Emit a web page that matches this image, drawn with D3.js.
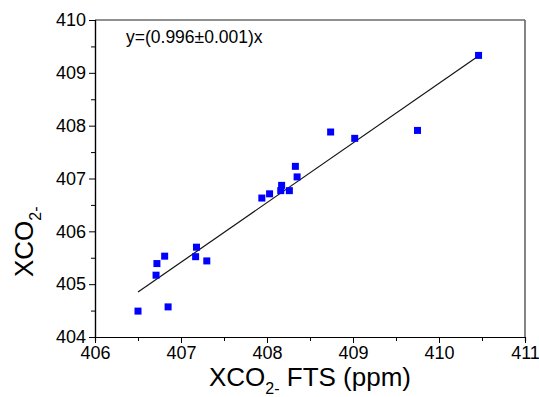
<!DOCTYPE html>
<html>
<head>
<meta charset="utf-8">
<script src="https://cdn.jsdelivr.net/npm/d3@7"></script>
<style>
  body { margin: 0; background: #fff; }
  text { font-family: "Liberation Sans", Arial, sans-serif; }
</style>
</head>
<body>
<svg id="chart"></svg>
<script>
// scatter values (x = FTS, y = satellite)
const fts = [406.50, 406.85, 406.71, 406.72, 406.81, 407.18, 407.17, 407.30,
             407.94, 408.03, 408.16, 408.17, 408.26, 408.33, 408.35, 408.74,
             409.02, 409.75, 410.46]
const sat = [404.49, 404.57, 405.17, 405.39, 405.53, 405.70, 405.52, 405.44,
             406.63, 406.71, 406.77, 406.87, 406.77, 407.23, 407.03, 407.88,
             407.76, 407.91, 409.33]

// fitted line end points
const fitX = [406.50, 410.45]
const fitY = [404.85, 409.31]

const xTicks = [406, 407, 408, 409, 410, 411]
const yTicks = [404, 405, 406, 407, 408, 409, 410]
const fitLabel = "y=(0.996\u00b10.001)x"

const W = 539, H = 397
var margin = {top: 20, right: 14, bottom: 60, left: 95},
  width = W - margin.left - margin.right,
  height = H - margin.top - margin.bottom;

var svg = d3.select("#chart")
  .attr("width", W)
  .attr("height", H)

var g = svg.append("g")
  .attr("transform", "translate(" + margin.left + "," + margin.top + ")")

var x = d3.scaleLinear().domain([406, 411]).range([0, width])
var y = d3.scaleLinear().domain([404, 410]).range([height, 0])

// frame on top and right
g.append("line")
  .attr("x1", 0).attr("x2", width).attr("y1", 0).attr("y2", 0)
  .attr("stroke", "#222").attr("stroke-width", 1.2)
g.append("line")
  .attr("x1", width).attr("x2", width).attr("y1", 0).attr("y2", height)
  .attr("stroke", "#666").attr("stroke-width", 1.6)

// minor ticks at halves
g.append("g")
  .attr("transform", "translate(0," + height + ")")
  .call(d3.axisBottom(x).tickValues(d3.range(406.5, 411, 1)).tickSize(4).tickFormat(""))
g.append("g")
  .call(d3.axisLeft(y).tickValues(d3.range(404.5, 410, 1)).tickSize(4).tickFormat(""))

// major axes
var xAxis = g.append("g")
  .attr("class", "xAxis")
  .attr("transform", "translate(0," + height + ")")
  .call(d3.axisBottom(x).tickValues(xTicks).tickFormat(d3.format("d"))
    .tickSize(6).tickSizeOuter(0).tickPadding(3))
var yAxis = g.append("g")
  .attr("class", "yAxis")
  .call(d3.axisLeft(y).tickValues(yTicks).tickFormat(d3.format("d"))
    .tickSize(6).tickSizeOuter(0).tickPadding(3))

g.selectAll(".domain").attr("stroke", "#000").attr("stroke-width", 1.2)
g.selectAll(".tick line").attr("stroke", "#000")
g.selectAll(".tick text")
  .attr("font-size", "18px")
  .attr("font-family", "Liberation Sans, Arial, sans-serif")
  .attr("fill", "#000")

// fit line
g.append("line")
  .attr("x1", x(fitX[0])).attr("y1", y(fitY[0]))
  .attr("x2", x(fitX[1])).attr("y2", y(fitY[1]))
  .attr("stroke", "#111")
  .attr("stroke-width", 1.2)

// points
g.append("g")
  .selectAll("rect")
  .data(fts.map((d, i) => [d, sat[i]]))
  .enter().append("rect")
  .attr("x", d => x(d[0]) - 3.5)
  .attr("y", d => y(d[1]) - 3.5)
  .attr("width", 7)
  .attr("height", 7)
  .attr("fill", "#0000ff")

// equation
g.append("text")
  .attr("x", 31)
  .attr("y", 23)
  .attr("font-size", "17.5px")
  .text(fitLabel)

// x title
var xt = svg.append("text")
  .attr("x", margin.left + width / 2)
  .attr("y", 386)
  .attr("text-anchor", "middle")
  .attr("font-size", "26px")
xt.append("tspan").text("XCO")
xt.append("tspan").attr("font-size", "16px").attr("dy", 8).text("2-")
xt.append("tspan").attr("dy", -8).text(" FTS (ppm)")

// y title
var yt = svg.append("text")
  .attr("transform", "translate(33,277) rotate(-90)")
  .attr("font-size", "26px")
yt.append("tspan").text("XCO")
yt.append("tspan").attr("font-size", "16px").attr("dy", 8).text("2-")
</script>
</body>
</html>
